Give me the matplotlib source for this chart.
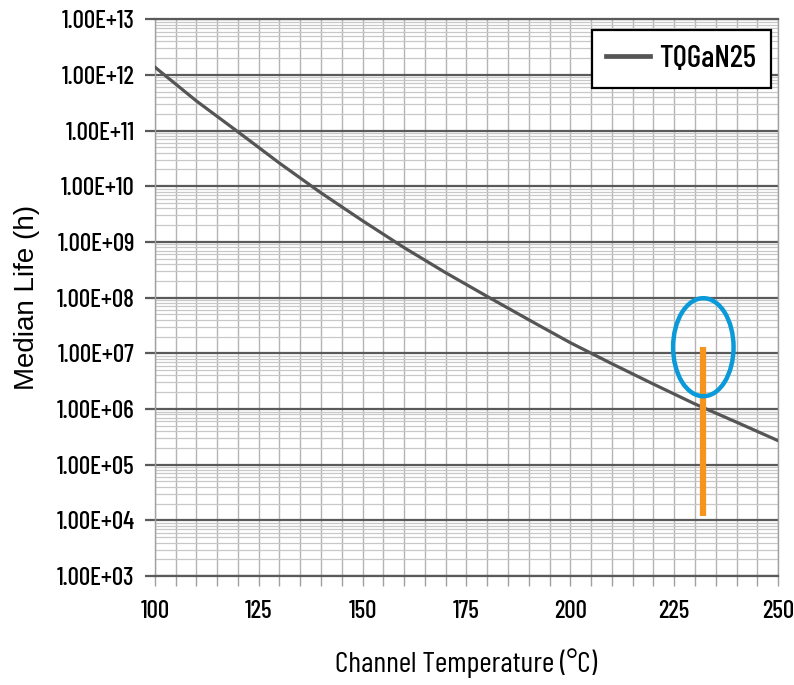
import numpy as np
import matplotlib
matplotlib.use('Agg')
import matplotlib.pyplot as plt
from matplotlib.patches import Ellipse
from matplotlib.ticker import FixedLocator, NullFormatter

# Median life vs channel temperature
temp_c = [100, 110, 120, 130, 140, 150, 160, 170, 180, 190, 200, 210, 220, 230, 240, 250]
life_h = [1.38e12, 3.4e11, 9.5e10, 2.6e10, 7.6e9, 2.4e9, 7.9e8, 2.8e8, 1.05e8,
          4.0e7, 1.55e7, 6.5e6, 2.8e6, 1.23e6, 5.8e5, 2.7e5]
series_name = 'TQGaN25'

# highlighted operating point
marker_temp = 232
marker_span = [1.2e4, 1.3e7]

x_ticks = [100, 125, 150, 175, 200, 225, 250]
y_ticks = [1e3, 1e4, 1e5, 1e6, 1e7, 1e8, 1e9, 1e10, 1e11, 1e12, 1e13]
y_labels = ['1.00E+%02d' % int(round(np.log10(v))) for v in y_ticks]

cond = ['Barlow Condensed', 'Roboto Condensed', 'DejaVu Sans']
plt.rcParams['font.family'] = cond
plt.rcParams['font.weight'] = 'medium'

fig = plt.figure(figsize=(7.94, 6.85), dpi=100)
ax = fig.add_axes([0.195, 0.159, 0.785, 0.813])
ax.set_yscale('log')
ax.set_xlim(100, 250)
ax.set_ylim(1e3, 1e13)

# grid
minor_y = [m * 10**e for e in range(3, 13) for m in range(2, 10)]
ax.yaxis.set_minor_locator(FixedLocator(minor_y))
ax.yaxis.set_minor_formatter(NullFormatter())
ax.xaxis.set_minor_locator(FixedLocator(np.arange(100, 251, 5)))
ax.grid(which='minor', axis='y', color='#c8c8c8', lw=0.9)
ax.grid(which='minor', axis='x', color='#b4b4b4', lw=1.0)
ax.grid(which='major', axis='x', color='#b4b4b4', lw=1.0)
ax.grid(which='major', axis='y', color='#5a5a5a', lw=1.6)
ax.set_axisbelow(True)

for side in ['left', 'right']:
    ax.spines[side].set_color('#a0a0a0')
    ax.spines[side].set_linewidth(1.0)
for side in ['top', 'bottom']:
    ax.spines[side].set_color('#5a5a5a')
    ax.spines[side].set_linewidth(1.6)

ax.set_xticks(x_ticks)
ax.set_xticklabels([str(v) for v in x_ticks])
ax.set_yticks(y_ticks)
ax.set_yticklabels(y_labels)
ax.tick_params(axis='y', which='major', length=7.5, width=1.6, color='#5a5a5a',
               labelsize=18, pad=7)
ax.tick_params(axis='y', which='minor', length=0)
ax.tick_params(axis='x', which='both', length=7, width=1.0, color='#a0a0a0',
               labelsize=18, pad=10)

ax.plot(temp_c, life_h, color='#555555', lw=2.3, label=series_name, zorder=3)

ax.plot([marker_temp, marker_temp], marker_span, color='#F7941D', lw=4.5,
        solid_capstyle='butt', zorder=4)
ax.add_patch(Ellipse((0.88, 0.411), 0.097, 0.176, transform=ax.transAxes,
                     fill=False, edgecolor='#0A9AD9', lw=3.2, zorder=5))

ax.set_xlabel('Channel Temperature (°C)', fontsize=21.5, labelpad=18)
ax.set_ylabel('Median Life (h)', fontsize=20, labelpad=12, fontweight='normal',
              family=['Liberation Sans', 'DejaVu Sans'])

leg = ax.legend(loc='upper right', bbox_to_anchor=(0.989, 0.980), fontsize=22.5,
                frameon=True, fancybox=False, framealpha=1, edgecolor='black',
                handlelength=1.4, borderpad=0.47, handletextpad=0.3,
                borderaxespad=0)
leg.get_frame().set_linewidth(1.6)
for line in leg.get_lines():
    line.set_linewidth(3.4)

fig.savefig('out.png', dpi=100)
